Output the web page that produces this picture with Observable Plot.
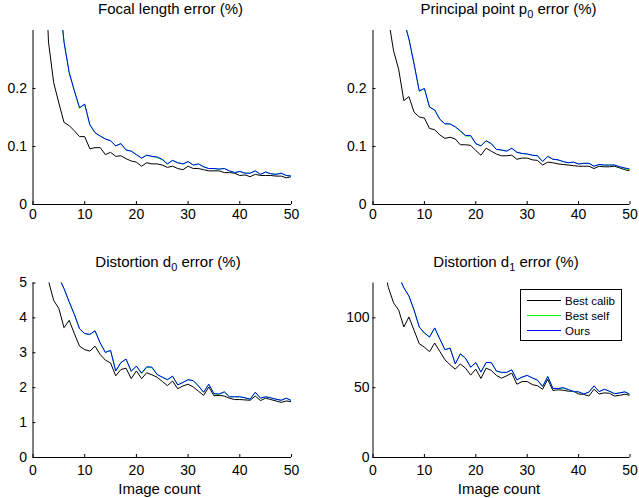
<!DOCTYPE html>
<html>
<head>
<meta charset="utf-8">
<script src="https://cdn.jsdelivr.net/npm/d3@7"></script>
<script src="https://cdn.jsdelivr.net/npm/@observablehq/plot@0.6"></script>
<style>
  body { margin: 0; background: #fff; }
  #chart { position: relative; width: 639px; height: 498px; background: #fff;
           font-family: "Liberation Sans", Arial, Helvetica, sans-serif; color: #000; }
  #chart .panel { position: absolute; }
  #overlay { position: absolute; left: 0; top: 0; pointer-events: none; }
</style>
</head>
<body>
<div id="chart"></div>
<script>
// ---------------- data ----------------
const imageCount = [1,2,3,4,5,6,7,8,9,10,11,12,13,14,15,16,17,18,19,20,21,22,23,24,25,
  26,27,28,29,30,31,32,33,34,35,36,37,38,39,40,41,42,43,44,45,46,47,48,49,50];
const xTicks = [0, 10, 20, 30, 40, 50];
const seriesNames = ["Best calib", "Best self", "Ours"];

// Focal length error (%)
const focalCalib = [null,0.48,0.28,0.21,0.175,0.1415,0.136,0.127,0.117,0.117,
  0.096,0.098,0.098,0.086,0.090,0.083,0.084,0.079,0.075,0.073,
  0.066,0.072,0.070,0.070,0.068,0.064,0.066,0.062,0.060,0.066,
  0.062,0.062,0.060,0.058,0.058,0.058,0.055,0.055,0.054,0.050,
  0.051,0.048,0.052,0.050,0.050,0.050,0.049,0.049,0.046,0.048];
const focalSelf = [null,null,null,null,0.37,0.28,0.2275,0.196,0.166,0.173,
  0.1375,0.1235,0.118,0.113,0.110,0.101,0.105,0.094,0.092,0.086,
  0.080,0.085,0.083,0.081,0.077,0.070,0.076,0.072,0.070,0.074,
  0.068,0.070,0.065,0.062,0.062,0.061,0.062,0.058,0.055,0.057,
  0.054,0.054,0.058,0.052,0.056,0.053,0.052,0.054,0.050,0.049];
const focalOurs = [null,null,null,null,0.37,0.28,0.2275,0.196,0.167,0.173,
  0.1375,0.124,0.118,0.113,0.110,0.101,0.105,0.094,0.092,0.086,
  0.080,0.085,0.083,0.082,0.078,0.070,0.076,0.072,0.070,0.074,
  0.068,0.070,0.065,0.062,0.062,0.061,0.062,0.058,0.055,0.057,
  0.054,0.054,0.058,0.052,0.056,0.053,0.052,0.054,0.050,0.049];

// Principal point p0 error (%)
const ppCalib = [null,0.50,0.32,0.265,0.233,0.179,0.186,0.159,0.151,0.149,
  0.131,0.129,0.120,0.114,0.116,0.113,0.103,0.103,0.102,0.093,
  0.085,0.097,0.092,0.087,0.084,0.084,0.085,0.078,0.080,0.080,
  0.077,0.076,0.068,0.073,0.072,0.070,0.069,0.068,0.067,0.066,
  0.066,0.066,0.062,0.066,0.065,0.065,0.066,0.063,0.060,0.058];
const ppSelf = [null,null,null,null,0.40,0.318,0.285,0.242,0.195,0.200,
  0.168,0.163,0.147,0.139,0.139,0.134,0.126,0.118,0.118,0.105,
  0.101,0.110,0.105,0.095,0.094,0.092,0.097,0.090,0.088,0.087,
  0.085,0.084,0.074,0.083,0.078,0.077,0.074,0.072,0.073,0.070,
  0.071,0.071,0.066,0.069,0.068,0.068,0.068,0.065,0.062,0.060];
const ppOurs = [null,null,null,null,0.40,0.318,0.285,0.242,0.196,0.200,
  0.168,0.163,0.147,0.139,0.139,0.134,0.127,0.119,0.119,0.105,
  0.101,0.110,0.105,0.095,0.094,0.092,0.097,0.090,0.088,0.087,
  0.085,0.084,0.074,0.083,0.078,0.077,0.074,0.072,0.073,0.070,
  0.071,0.071,0.066,0.069,0.068,0.068,0.068,0.065,0.063,0.061];

// Distortion d0 error (%)
const d0Calib = [null,8.0,5.06,4.50,4.27,3.72,3.93,3.55,3.19,3.09,
  3.05,3.19,2.95,2.79,2.71,2.34,2.52,2.56,2.26,2.48,
  2.26,2.43,2.37,2.30,2.18,2.06,2.19,1.97,2.05,2.10,
  2.02,1.90,1.78,2.02,1.77,1.78,1.76,1.70,1.66,1.66,
  1.65,1.64,1.76,1.63,1.70,1.66,1.62,1.58,1.62,1.60];
const d0Self = [null,null,null,5.6,5.16,4.84,4.46,4.10,3.69,3.55,
  3.52,3.63,3.28,3.01,3.07,2.48,2.72,2.82,2.47,2.62,
  2.40,2.58,2.57,2.38,2.30,2.23,2.33,2.08,2.15,2.23,
  2.20,2.05,1.87,2.10,1.82,1.81,1.88,1.74,1.74,1.74,
  1.71,1.67,1.87,1.70,1.74,1.71,1.67,1.64,1.70,1.63];
const d0Ours = [null,null,null,5.6,5.16,4.84,4.46,4.10,3.69,3.55,
  3.53,3.63,3.28,3.01,3.07,2.48,2.72,2.82,2.47,2.62,
  2.42,2.60,2.59,2.38,2.30,2.23,2.33,2.08,2.15,2.23,
  2.20,2.05,1.87,2.10,1.83,1.82,1.88,1.74,1.74,1.74,
  1.71,1.67,1.87,1.70,1.74,1.71,1.67,1.64,1.70,1.63];

// Distortion d1 error (%)
const d1Calib = [null,138.5,121.6,110.8,105.5,93.5,100.7,91,81.5,79,
  75.8,82,76,70,66.4,63.3,67,64,59,63.3,
  56.6,64,62.4,58.8,56.8,58.5,60.4,52.5,54.4,54.4,
  52.2,51.4,48.9,56,48,48.5,48.2,47.5,47.5,45.5,
  45.2,44,48.9,45.5,46.3,46,44,44.5,45.3,44.5];
const d1Self = [null,null,null,145,130.1,121.6,115.6,105.5,93.5,89.2,
  86.2,92.8,84.9,77.2,78.4,67.1,74,70.9,64.7,68,
  61.2,68,68,62,60.8,61,62.8,55.6,57.6,58.8,
  57,55.4,50.8,58,49.5,49.3,49.7,48.7,47.2,47,
  45.5,46.8,51.3,47.2,48.9,47.5,45.7,46.3,47,45.2];
const d1Ours = [null,null,null,145,130.1,121.6,115.6,105.5,93.5,89.2,
  86.3,92.8,84.9,77.2,78.4,67.1,74.3,71.2,64.7,68,
  61.2,68,68,62,61,61,62.8,55.6,57.6,58.8,
  57,55.4,50.8,58,49.5,49.5,50,48.7,47.2,47,
  45.5,46.8,51.3,47.2,48.9,47.5,45.7,46.3,47,45.2];

const yTicksSmall = [0, 0.1, 0.2];
const yTicksD0 = [0, 1, 2, 3, 4, 5];
const yTicksD1 = [0, 50, 100];

// ---------------- drawing ----------------
const colors = {"Best calib": "#000000", "Best self": "#00ff00", "Ours": "#0000ff"};

function rows(values) {
  return imageCount.map((n, i) => ({n, v: values[i]}));
}

const panels = [
  {left: 0, top: 0, width: 320, height: 240, ml: 32.5, mr: 29, mt: 30, mb: 36,
   ymax: 0.3, yTicks: yTicksSmall, xPad: 8, yPad: 9,
   series: [focalCalib, focalSelf, focalOurs]},
  {left: 320, top: 0, width: 319, height: 240, ml: 52.5, mr: 9.5, mt: 30, mb: 36,
   ymax: 0.3, yTicks: yTicksSmall, xPad: 8, yPad: 9.5,
   series: [ppCalib, ppSelf, ppOurs]},
  {left: 0, top: 240, width: 320, height: 258, ml: 32.5, mr: 29, mt: 42.5, mb: 41,
   ymax: 5, yTicks: yTicksD0, xPad: 11, yPad: 9,
   series: [d0Calib, d0Self, d0Ours]},
  {left: 320, top: 240, width: 319, height: 258, ml: 52.5, mr: 9.5, mt: 42.5, mb: 41,
   ymax: 125, yTicks: yTicksD1, xPad: 11, yPad: 6.5,
   series: [d1Calib, d1Self, d1Ours]}
];

const chart = document.getElementById("chart");

for (const p of panels) {
  const lineMarks = p.series.map((vals, k) =>
    Plot.line(rows(vals), {x: "n", y: "v", stroke: colors[seriesNames[k]], strokeWidth: 1, clip: true})
  );
  const svg = Plot.plot({
    width: p.width,
    height: p.height,
    marginLeft: p.ml,
    marginRight: p.mr,
    marginTop: p.mt,
    marginBottom: p.mb,
    style: {background: "transparent", color: "#000", fontFamily: '"Liberation Sans", Arial, sans-serif', fontSize: "14px", overflow: "visible"},
    x: {domain: [0, 50]},
    y: {domain: [0, p.ymax]},
    marks: [
      ...lineMarks,
      Plot.ruleX([0], {stroke: "#000", strokeWidth: 1}),
      Plot.ruleY([0], {stroke: "#000", strokeWidth: 1}),
      Plot.axisX({ticks: xTicks, tickSize: -3, tickPadding: p.xPad, fontSize: 14, label: null, tickFormat: d => String(d)}),
      Plot.axisY({ticks: p.yTicks, tickSize: -3, tickPadding: p.yPad, fontSize: 14, label: null, tickFormat: d => String(d)})
    ]
  });
  svg.classList.add("panel");
  svg.style.left = p.left + "px";
  svg.style.top = p.top + "px";
  chart.appendChild(svg);
}

// overlay: titles, axis labels, legend
const NS = "http://www.w3.org/2000/svg";
const ov = document.createElementNS(NS, "svg");
ov.setAttribute("id", "overlay");
ov.setAttribute("width", 639);
ov.setAttribute("height", 498);
ov.setAttribute("font-family", '"Liberation Sans", Arial, sans-serif');
ov.innerHTML = `
  <text x="170.5" y="13.5" font-size="15" text-anchor="middle">Focal length error (%)</text>
  <text x="508.5" y="13.5" font-size="15" text-anchor="middle">Principal point p<tspan font-size="11" dy="4">0</tspan><tspan dy="-4"> error (%)</tspan></text>
  <text x="168" y="266.5" font-size="15" text-anchor="middle">Distortion d<tspan font-size="11" dy="4">0</tspan><tspan dy="-4"> error (%)</tspan></text>
  <text x="506" y="266.5" font-size="15" text-anchor="middle">Distortion d<tspan font-size="11" dy="4">1</tspan><tspan dy="-4"> error (%)</tspan></text>
  <text x="159.5" y="494" font-size="15" text-anchor="middle">Image count</text>
  <text x="499" y="494" font-size="15" text-anchor="middle">Image count</text>
  <rect x="520.5" y="289.5" width="101" height="51" fill="#fff" stroke="#000" stroke-width="1"></rect>
  <line x1="527" x2="561" y1="300.5" y2="300.5" stroke="${colors["Best calib"]}" stroke-width="1"></line>
  <line x1="527" x2="561" y1="315.5" y2="315.5" stroke="${colors["Best self"]}" stroke-width="1"></line>
  <line x1="527" x2="561" y1="330.5" y2="330.5" stroke="${colors["Ours"]}" stroke-width="1"></line>
  <text x="565" y="304.5" font-size="11.5">${seriesNames[0]}</text>
  <text x="565" y="319.5" font-size="11.5">${seriesNames[1]}</text>
  <text x="565" y="334.5" font-size="11.5">${seriesNames[2]}</text>
`;
chart.appendChild(ov);
</script>
</body>
</html>
